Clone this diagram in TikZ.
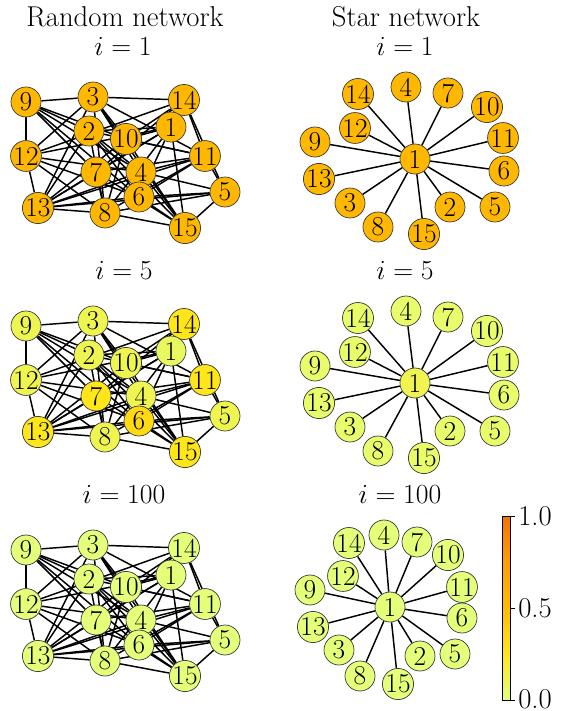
\documentclass[tikz,border=0pt]{standalone}
\usetikzlibrary{backgrounds}
\definecolor{wc0}{RGB}{228,255,122}
\definecolor{wc1}{RGB}{255,232,26}
\definecolor{wc2}{RGB}{255,189,0}
\definecolor{wc3}{RGB}{255,160,0}
\definecolor{wc4}{RGB}{245,115,0}
\definecolor{orgA}{RGB}{255,183,0}
\definecolor{paleA}{RGB}{228,255,122}
\definecolor{yP}{RGB}{239,245,80}
\definecolor{yP1}{RGB}{234,248,95}
\definecolor{yB}{RGB}{255,230,26}
\definecolor{yD}{RGB}{255,218,16}
\definecolor{sP}{RGB}{232,252,108}
\definecolor{sC}{RGB}{240,244,80}
\foreach \n in {1,...,15}{\xglobal\colorlet{O\n}{orgA}\xglobal\colorlet{P\n}{paleA}\xglobal\colorlet{S\n}{sP}}
\colorlet{S1}{sC}
\colorlet{Y1}{yP1}\colorlet{Y2}{yP}\colorlet{Y3}{yP}\colorlet{Y4}{yP}\colorlet{Y5}{yP}
\colorlet{Y6}{yD}\colorlet{Y7}{yB}\colorlet{Y8}{yP}\colorlet{Y9}{yP}\colorlet{Y10}{yP}
\colorlet{Y11}{yB}\colorlet{Y12}{yP}\colorlet{Y13}{yB}\colorlet{Y14}{yB}\colorlet{Y15}{yB}
\pgfdeclareverticalshading{wistia}{100bp}{color(0bp)=(wc0); color(25bp)=(wc0); color(37.5bp)=(wc1); color(50bp)=(wc2); color(62.5bp)=(wc3); color(75bp)=(wc4); color(100bp)=(wc4)}
\def\randpos{9/26/102, 3/93/97, 14/184/100, 2/89/131, 10/126/139, 1/171/127, 12/26/156, 11/205/156, 7/96/172, 4/141/172, 6/139/197, 5/225/192, 13/38/208, 8/105/213, 15/185/228}
\def\randedges{9/3, 9/12, 9/2, 9/10, 9/4, 9/6, 9/7,
 3/14, 3/12, 3/13, 3/10, 3/4, 3/11, 3/15, 3/8,
 14/11, 14/5, 14/12, 14/10, 14/7,
 1/10, 1/2, 1/12, 1/13, 1/7, 1/8, 1/15, 1/6,
 10/11, 10/8, 10/13, 10/15,
 11/5, 11/4, 11/6, 11/7, 11/8, 11/13, 11/2,
 5/15, 5/6, 5/4, 5/13, 5/8,
 15/8, 15/4, 15/6, 15/2, 15/7,
 13/12, 13/2, 13/7, 13/8, 13/4, 13/6,
 8/12, 8/7, 8/2, 12/6, 12/4, 4/2, 6/2}
\def\starposA{1/415/159, 4/406/87, 14/358/94, 7/448/93, 10/487/107, 12/355/128, 11/503/138, 9/315/142, 6/504/171, 13/319/179, 5/495/207, 3/350/203, 2/450/207, 8/378/227, 15/424/234}
\def\starposB{1/390/607, 4/384/535, 14/349/543, 7/417/542, 10/448/555, 12/343/576, 11/462/587, 9/310/590, 6/462/618, 13/313/627, 5/455/654, 3/339/650, 2/420/656, 8/360/676, 15/398/684}
\newcommand{\randnet}[3]{%
  \foreach \n/\x/\y in \randpos {\node[nd,fill=#3\n] (#1-\n) at (\x,\y+#2) {\n};}
  \begin{scope}[on background layer]
    \foreach \a/\b in \randedges {\draw[edge] (#1-\a) -- (#1-\b);}
  \end{scope}}
\newcommand{\starnet}[4]{%
  \foreach \n/\x/\y in #2 {\node[nd,fill=#4\n] (#1-\n) at (\x,\y+#3) {\n};}
  \begin{scope}[on background layer]
    \foreach \n in {2,...,15} {\draw[edge] (#1-1) -- (#1-\n);}
  \end{scope}}
\begin{document}
\begin{tikzpicture}[x=0.75pt,y=-0.75pt,
  nd/.style={circle,draw=black!75,line width=0.55pt,minimum size=22.5pt,inner sep=0pt,font=\fontsize{20.5}{20.5}\selectfont},
  edge/.style={draw=black,line width=1.1pt},
  ttl/.style={inner sep=0pt,font=\fontsize{21.5}{25}\selectfont},
  tick/.style={line width=0.7pt}]
\useasboundingbox (0,0) rectangle (564,711);
\node[ttl] (tr) at (125,17) {Random network};
\node[ttl] (ts) at (406,17) {Star network};
\node[ttl] (tr1) at (123,46) {$i=1$};
\node[ttl] (ts1) at (405,46) {$i=1$};
\node[ttl] (tr2) at (124,270) {$i=5$};
\node[ttl] (ts2) at (405,270) {$i=5$};
\node[ttl] (tr3) at (124,494) {$i=100$};
\node[ttl] (ts3) at (400,494) {$i=100$};
\randnet{ra}{0}{O}
\randnet{rb}{224}{Y}
\randnet{rc}{448}{P}
\starnet{sa}{\starposA}{0}{O}
\starnet{sb}{\starposA}{224}{S}
\starnet{sc}{\starposB}{0}{P}
% colour bar
\shade[shading=wistia] (502,516) rectangle (510,700);
\draw[tick] (502,516) rectangle (510,700);
\draw[tick] (510,516) -- (515,516);
\draw[tick] (510,608) -- (515,608);
\draw[tick] (510,700) -- (515,700);
\node[ttl,anchor=west] (c1) at (518,516) {1.0};
\node[ttl,anchor=west] (c5) at (518,608) {0.5};
\node[ttl,anchor=west] (c0) at (518,699) {0.0};
\end{tikzpicture}
\end{document}
